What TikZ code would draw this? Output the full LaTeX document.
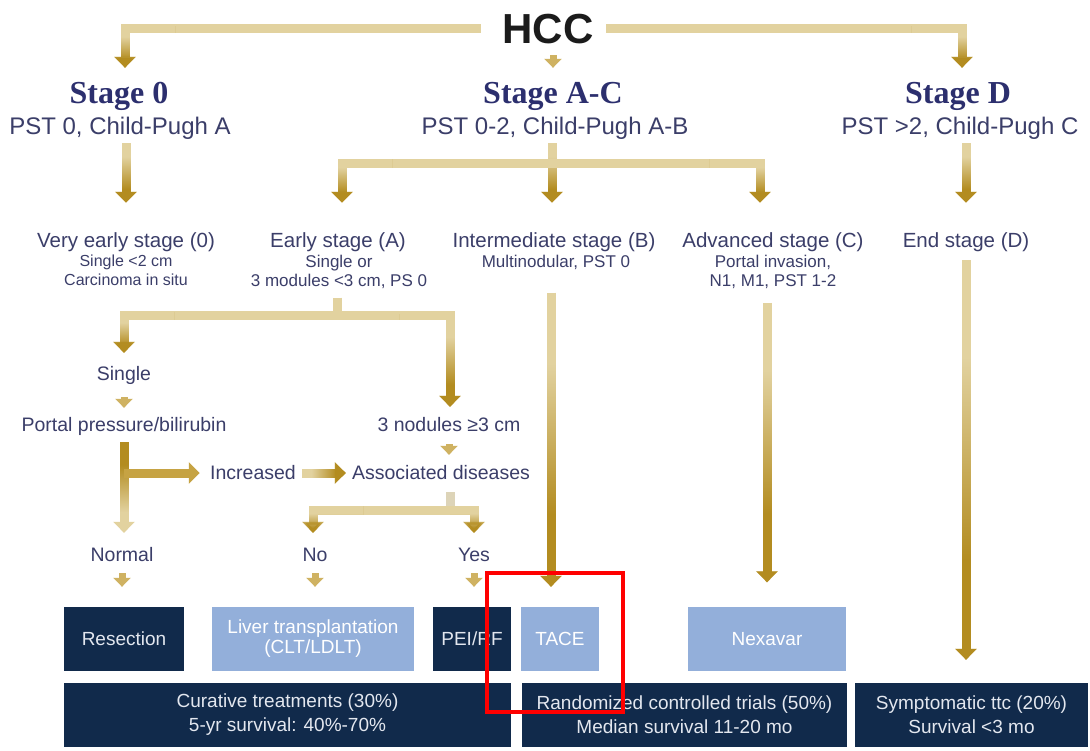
\documentclass[tikz,border=0pt]{standalone}
\usepackage{fontspec}
\setmainfont{Liberation Sans}
\newfontfamily\stagefont{Liberation Serif}
\usetikzlibrary{arrows.meta,fadings,calc}
\definecolor{goldl}{HTML}{E2D29F}
\definecolor{goldd}{HTML}{B38C20}
\definecolor{goldm}{HTML}{C6A343}
\definecolor{golds}{HTML}{CFB262}
\definecolor{goldp}{HTML}{DDD4B8}
\definecolor{navyt}{HTML}{2C2F6E}
\definecolor{bodyt}{HTML}{3B3E69}
\definecolor{hcct}{HTML}{1B1B1B}
\definecolor{dboxc}{HTML}{112A4B}
\definecolor{lboxc}{HTML}{93AFDA}
\definecolor{dtxt}{HTML}{E3E7EF}
\newcommand\myfs[2]{\fontsize{#1}{#2}\selectfont}
\tikzfading[name=fdn, top color=transparent!100, bottom color=transparent!0]
\tikzfading[name=fup, top color=transparent!0, bottom color=transparent!100]
\tikzfading[name=frt, left color=transparent!100, right color=transparent!0]
\begin{document}
\begin{tikzpicture}[x=1pt,y=-1pt,
  hccs/.style={inner sep=0pt, text=hcct, font=\bfseries\myfs{42}{48}, text height=30pt, text depth=0pt},
  stg/.style={inner sep=0pt, text=navyt, font=\stagefont\bfseries\myfs{32}{36}, text height=28.2pt, text depth=7pt},
  pst/.style={inner sep=0pt, text=bodyt, font=\myfs{24}{28}, text height=22.2pt, text depth=5pt},
  l3t/.style={inner sep=0pt, text=bodyt, font=\myfs{20.5}{24}, text height=19pt, text depth=4.3pt},
  l3s/.style={inner sep=0pt, text=bodyt, align=center, font=\myfs{17}{19}, anchor=north},
  mid/.style={inner sep=0pt, text=bodyt, font=\myfs{19.5}{23}, text height=18.05pt, text depth=4.1pt},
  darkbox/.style={fill=dboxc, text=dtxt, inner sep=0pt, align=center, font=\myfs{19}{24}, minimum height=64pt},
  lightbox/.style={fill=lboxc, text=white, inner sep=0pt, align=center, font=\myfs{19}{20}, minimum height=64pt},
  gbar/.style={draw=goldl, line width=9pt, line join=miter},
  garr/.style={gbar, -{Triangle[width=21pt,length=11pt]}},
  gsm/.style={draw=golds, line width=7pt, -{Triangle[width=17pt,length=9pt]}},
  gv/.style n args={3}{postaction={draw=goldd, path fading=fdn, fit fading=false, fading transform={shift={(#1,#2)},yscale=#3}}},
  gu/.style n args={3}{postaction={draw=goldd, path fading=fup, fit fading=false, fading transform={shift={(#1,#2)},yscale=#3}}},
  gh/.style n args={3}{postaction={draw=goldd, path fading=frt, fit fading=false, fading transform={shift={(#1,#2)},xscale=#3}}},
]
\fill[white] (0,0) rectangle (1090,750);
\useasboundingbox (0,0) rectangle (1090,750);

% ---- top level
\node[hccs] (hcc) at (548,28.5) {HCC};
\node[stg] (s0) at (119,93) {Stage 0};
\node[pst] (p0) at (120,126) {PST 0, Child-Pugh A};
\node[stg] (sac) at (553,93) {Stage A-C};
\node[pst] (pac) at (555,126) {PST 0-2, Child-Pugh A-B};
\node[stg] (sd) at (958,93) {Stage D};
\node[pst] (pd) at (960,126) {PST >2, Child-Pugh C};

% ---- stage level
\node[l3t] (ve) at (126,240) {Very early stage (0)};
\node[l3s, font=\myfs{16}{19}] (ve2) at (126,255) {Single <2 cm\\Carcinoma in situ};
\node[l3t] (ea) at (338,240) {Early stage (A)};
\node[l3s] (ea2) at (339,254.7) {Single or\\3 modules <3 cm, PS 0};
\node[l3t] (im) at (554,240) {Intermediate stage (B)};
\node[l3s] (im2) at (556,254.7) {Multinodular, PST 0};
\node[l3t] (ad) at (773,240) {Advanced stage (C)};
\node[l3s] (ad2) at (773,254.7) {Portal invasion,\\N1, M1, PST 1-2};
\node[l3t] (en) at (966,240) {End stage (D)};

% ---- decision level
\node[mid] (sg) at (124,374) {Single};
\node[mid] (pp) at (124,425) {Portal pressure/bilirubin};
\node[mid] (tn) at (449,425) {3 nodules ≥3 cm};
\node[mid] (inc) at (253,473) {Increased};
\node[mid] (as) at (441,473) {Associated diseases};
\node[mid] (nm) at (122,555) {Normal};
\node[mid] (no) at (315,555) {No};
\node[mid] (ys) at (474,555) {Yes};

% ---- treatment boxes
\node[darkbox, minimum width=120pt] (res) at (124,639) {Resection};
\node[lightbox, minimum width=202pt] (lt) at (313,639) {Liver transplantation\\(CLT/LDLT)};
\node[darkbox, minimum width=78pt] (pei) at (472,639) {PEI/RF};
\node[lightbox, minimum width=78pt] (tace) at (560,639) {TACE};
\node[lightbox, minimum width=158pt] (nex) at (767,639) {Nexavar};
\node[darkbox, minimum width=447pt] (cur) at (287.5,715) {Curative treatments (30\%)\\5-yr survival: 40\%-70\%};
\node[darkbox, minimum width=325pt] (rct) at (684.5,715) {Randomized controlled trials (50\%)\\Median survival 11-20 mo};
\node[darkbox, minimum width=233pt] (sym) at (971.5,715) {Symptomatic ttc (20\%)\\Survival <3 mo};

% ---- connectors from HCC
\draw[garr, gv={125}{48}{0.45}, shorten <=21.5pt, shorten >=7.4pt] (hcc.west) -| ([xshift=6pt]s0.north);
\draw[gsm, shorten <=11.5pt, shorten >=7.4pt] (sac.north |- hcc.south) -- (sac.north);
\draw[garr, gv={962}{48}{0.45}, shorten <=12.5pt, shorten >=7.4pt] (hcc.east) -| ([xshift=4pt]sd.north);

% ---- stage rows
\draw[garr, gv={126}{173}{0.65}, shorten <=3.4pt, shorten >=25.4pt] (ve.north |- p0.south) -- (ve.north);
\coordinate (jac) at (552,163);
\draw[garr, gv={552}{173}{0.65}, shorten <=3.4pt, shorten >=25.4pt] (pac.south -| jac) -- (jac |- im.north);
\draw[garr, gv={342}{180}{0.5}, shorten >=25.4pt] (jac) -| ([xshift=4pt]ea.north);
\draw[garr, gv={760}{180}{0.5}, shorten >=25.4pt] (jac) -| ([xshift=-13pt]ad.north);
\draw[garr, gv={966}{173}{0.65}, shorten <=3.4pt, shorten >=25.4pt] (en.north |- pd.south) -- (en.north);

% ---- early stage branch
\coordinate (jea) at (337,315);
\draw[gbar, shorten <=9pt] (ea2.south -| jea) -- (jea);
\draw[garr, gv={124}{334}{0.45}, shorten >=9.9pt] (jea) -| (sg.north);
\draw[garr, gv={450}{361}{0.95}, shorten >=6.9pt] (jea) -| ([xshift=1pt]tn.north);
\draw[gsm, shorten <=11.9pt, shorten >=5.9pt] (sg.south) -- (sg.south |- pp.north);
\draw[gsm, shorten <=7.9pt, shorten >=6.9pt] (tn.south) -- (tn.south |- as.north);

% ---- portal pressure branch
\draw[garr, gu={124}{488}{0.95}, shorten <=5.9pt, shorten >=10.9pt] (pp.south) -- (pp.south |- nm.north);
\draw[garr, draw=goldm, shorten >=10.2pt] (pp.south |- inc.west) -- (inc.west);
\draw[garr, gh={324}{473}{0.5}, shorten <=6.2pt, shorten >=6.1pt] (inc.east) -- (as.west);

% ---- associated diseases branch
\coordinate (jas) at (450,510);
\draw[gbar, draw=goldp, shorten <=7.9pt] (as.south -| jas) -- (jas);
\draw[garr, gv={313}{521}{0.3}, shorten >=10.9pt] (jas) -| ([xshift=-2pt]no.north);
\draw[garr, gv={474}{521}{0.3}, shorten >=10.9pt] (jas) -| (ys.north);

% ---- to treatments
\draw[gsm, shorten <=6.9pt, shorten >=20pt] (nm.south) -- (nm.south |- res.north);
\draw[gsm, shorten <=6.9pt, shorten >=20pt] (no.south) -- (no.south |- lt.north);
\draw[gsm, shorten <=6.9pt, shorten >=20pt] (ys.south) -- (ys.south |- pei.north);
\draw[garr, gv={551}{440}{3.0}, shorten <=23pt, shorten >=20pt] ([xshift=-5pt]im2.south) -- ([xshift=-5pt]im2.south |- tace.north);
\draw[garr, gv={767}{443}{2.85}, shorten <=14.4pt, shorten >=24.5pt] (nex.north |- ad2.south) -- (nex.north);
\draw[garr, gv={966}{460}{4.05}, shorten <=8.4pt, shorten >=23pt] (en.south) -- (en.south |- sym.north);

% ---- highlight frame
\node[draw=red, line width=4pt, minimum width=136pt, minimum height=139pt, inner sep=0pt] (hl) at (555,642.5) {};
\end{tikzpicture}
\end{document}
